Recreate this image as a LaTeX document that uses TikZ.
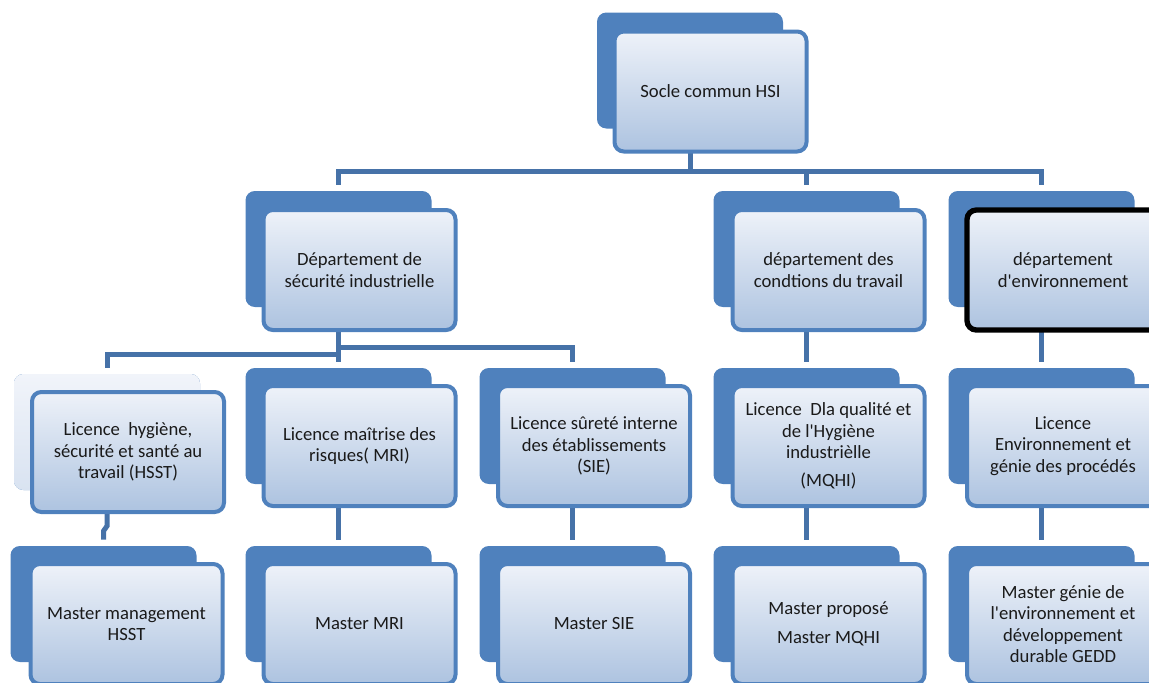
\documentclass[tikz,border=0pt]{standalone}
\usepackage{fontspec}
\setmainfont{Carlito}[Ligatures=TeXOff]
\usepackage{tikz}
\usetikzlibrary{positioning, backgrounds, calc}
\definecolor{backfill}{HTML}{4F81BD}
\definecolor{cardline}{HTML}{4F81BD}
\definecolor{cardtop}{HTML}{EEF2F9}
\definecolor{cardbot}{HTML}{ADC3E0}
\definecolor{fadetop}{HTML}{F1F4FA}
\definecolor{fadebot}{HTML}{D9E3F1}
\definecolor{connline}{HTML}{4672A8}
\definecolor{inktext}{HTML}{1A1A1A}
\tikzset{
  backbox/.style = {rectangle, rounded corners=7pt, fill=backfill, inner sep=0pt,
                    minimum width=139.5pt, minimum height=87pt},
  fadebox/.style = {backbox, top color=fadetop, bottom color=fadebot},
  card/.style    = {rectangle, rounded corners=7pt, draw=cardline, line width=3pt,
                    top color=cardtop, bottom color=cardbot, align=center,
                    font=\fontsize{14}{16}\selectfont, text=inktext,
                    minimum width=144pt, minimum height=90pt, inner sep=2pt},
  selcard/.style = {card, draw=black, line width=4pt},
  conn/.style    = {line width=3.75pt, draw=connline, shorten >=4.5pt},
}

\begin{document}
\begin{tikzpicture}[x=0.75pt, y=-0.75pt]
        \useasboundingbox (0,0) rectangle (1149,682);
        \clip (0,0) rectangle (1149,682);
        % root
        \node[backbox] (bSoc) at (690,70.5) {};
        \node[card]    (fSoc) at (710.5,91.5) {Socle commun HSI};
        % departments
        \node[backbox] (bSec)  at (338.5,249) {};
        \node[card]    (fSec)  at (359.5,270) {Département de\\sécurité industrielle};
        \node[backbox] (bCond) at (806.5,249) {};
        \node[card]    (fCond) at (828.5,270) {département des\\condtions du travail};
        \node[backbox] (bEnv)  at (1041.5,249) {};
        \node[selcard] (fEnv)  at (1063,270) {département\\d'environnement};
        % licences
        \node[fadebox] (bL1) at (107,432) {};
        \node[card]    (fL1) at (128,452) {Licence\ \ hygiène,\\sécurité et santé au\\travail (HSST)};
        \node[backbox] (bL2) at (338.5,426) {};
        \node[card]    (fL2) at (359.5,446) {Licence maîtrise des\\risques( MRI)};
        \node[backbox] (bL3) at (572.5,426) {};
        \node[card]    (fL3) at (594,446) {Licence sûreté interne\\des établissements\\(SIE)};
        \node[backbox] (bL4) at (806.5,426) {};
        \node[card]    (fL4) at (828.5,446) {Licence\ \ Dla qualité et\\de l'Hygiène\\industrièlle\\[5pt](MQHI)};
        \node[backbox] (bL5) at (1041.5,426) {};
        \node[card]    (fL5) at (1063,446) {Licence\\Environnement et\\génie des procédés};
        % masters
        \node[backbox] (bM1) at (103.5,604) {};
        \node[card]    (fM1) at (126.5,624) {Master management\\HSST};
        \node[backbox] (bM2) at (338.5,604) {};
        \node[card]    (fM2) at (359.5,624) {Master MRI};
        \node[backbox] (bM3) at (572.5,604) {};
        \node[card]    (fM3) at (594,624) {Master SIE};
        \node[backbox] (bM4) at (806.5,604) {};
        \node[card]    (fM4) at (828.5,624) {Master proposé\\[6pt]Master MQHI};
        \node[backbox] (bM5) at (1041.5,604) {};
        \node[card]    (fM5) at (1063,624) {Master génie de\\l'environnement et\\développement\\durable GEDD};
        \coordinate (busTop)  at (0,171);
        \coordinate (busSecL) at (0,354);
        \coordinate (busSecR) at (0,347);
        \coordinate (jogA)    at (0,526);
        \coordinate (jogB)    at (0,531);
        \begin{scope}[on background layer]
            \draw[conn] (bSoc.center) -- (bSoc.center |- busTop) -| (bSec.north);
            \foreach \y in {bCond, bEnv}{\draw[conn] (bSoc.center |- busTop) -| (\y.north);}
            \draw[conn] (bSec.center) -- (bL2.north);
            \draw[conn] (bSec.center |- busSecL) -| (bL1.north);
            \draw[conn] (bSec.center |- busSecR) -| (bL3.north);
            \foreach \x/\y in {bCond/bL4, bEnv/bL5, bL2/bM2, bL3/bM3, bL4/bM4, bL5/bM5}{\draw[conn] (\x.center) -- (\y.north);}
            \draw[conn] (bL1.center) -- (bL1.center |- jogA) -- (bM1.center |- jogB) -- (bM1.north);
        \end{scope}
    \end{tikzpicture}
\end{document}
